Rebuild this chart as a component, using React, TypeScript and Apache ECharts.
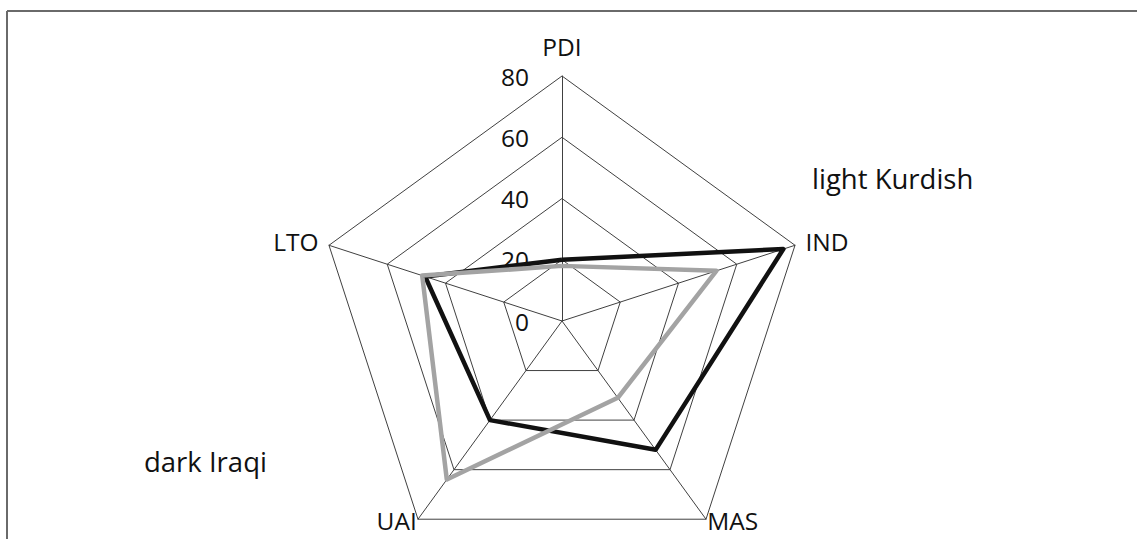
import React, { useEffect, useRef } from "react";
import * as echarts from "echarts";

// Axes in clockwise display order starting at the top
const categories = ["PDI", "IND", "MAS", "UAI", "LTO"];
const darkIraqi = [20, 76, 52, 40, 47];
const lightKurdish = [18, 53, 31, 64, 48];
const axisMin = 0;
const axisMax = 80;
const splitCount = 4;

export default function App() {
  const ref = useRef<HTMLDivElement>(null);
  useEffect(() => {
    if (!ref.current) return;
    const chart = echarts.init(ref.current, null, { renderer: "svg" });
    // ECharts lays radar indicators out counter-clockwise; reorder to draw clockwise
    const order = [0, 4, 3, 2, 1];
    const font = "'Open Sans', sans-serif";
    const indicator = order.map((i, k) => {
      const ind: any = { name: categories[i], min: axisMin, max: axisMax };
      if (k === 0) {
        ind.nameGap = 20;
        ind.axisLabel = {
          show: true,
          color: "#111",
          fontSize: 24.5,
          fontFamily: font,
          margin: 33,
        };
      }
      if (categories[i] === "MAS" || categories[i] === "UAI") {
        ind.nameGap = 2;
      }
      return ind;
    });
    chart.setOption({
      animation: false,
      backgroundColor: "#ffffff",
      radar: {
        center: [562, 321],
        radius: 245,
        startAngle: 90,
        splitNumber: splitCount,
        shape: "polygon",
        nameGap: 11,
        axisName: {
          color: "#111",
          fontSize: 24.5,
          fontFamily: font,
          lineHeight: 20,
        },
        splitLine: { lineStyle: { color: "#404040", width: 1 } },
        splitArea: { show: false },
        axisLine: { lineStyle: { color: "#404040", width: 1 } },
        axisTick: { show: false },
        axisLabel: { show: false },
        indicator,
      },
      series: [
        {
          type: "radar",
          symbol: "none",
          data: [
            {
              name: "dark Iraqi",
              value: order.map((i) => darkIraqi[i]),
              lineStyle: { color: "#111111", width: 4.5 },
            },
            {
              name: "light Kurdish",
              value: order.map((i) => lightKurdish[i]),
              lineStyle: { color: "#a3a3a3", width: 4.5 },
            },
          ],
        },
      ],
      graphic: [
        {
          type: "line",
          shape: { x1: 7, y1: 11, x2: 1137, y2: 11 },
          style: { stroke: "#6a6a6a", lineWidth: 2 },
        },
        {
          type: "line",
          shape: { x1: 7, y1: 11, x2: 7, y2: 539 },
          style: { stroke: "#6a6a6a", lineWidth: 2 },
        },
        {
          type: "text",
          x: 812,
          y: 178,
          style: {
            text: "light Kurdish",
            fill: "#111",
            font: `27.5px ${font}`,
            textVerticalAlign: "middle",
          },
        },
        {
          type: "text",
          x: 144,
          y: 461,
          style: {
            text: "dark Iraqi",
            fill: "#111",
            font: `27.5px ${font}`,
            textVerticalAlign: "middle",
          },
        },
      ],
    });
    return () => chart.dispose();
  }, []);
  return (
    <div
      ref={ref}
      style={{ position: "fixed", left: 0, top: 0, width: 1137, height: 539 }}
    />
  );
}
